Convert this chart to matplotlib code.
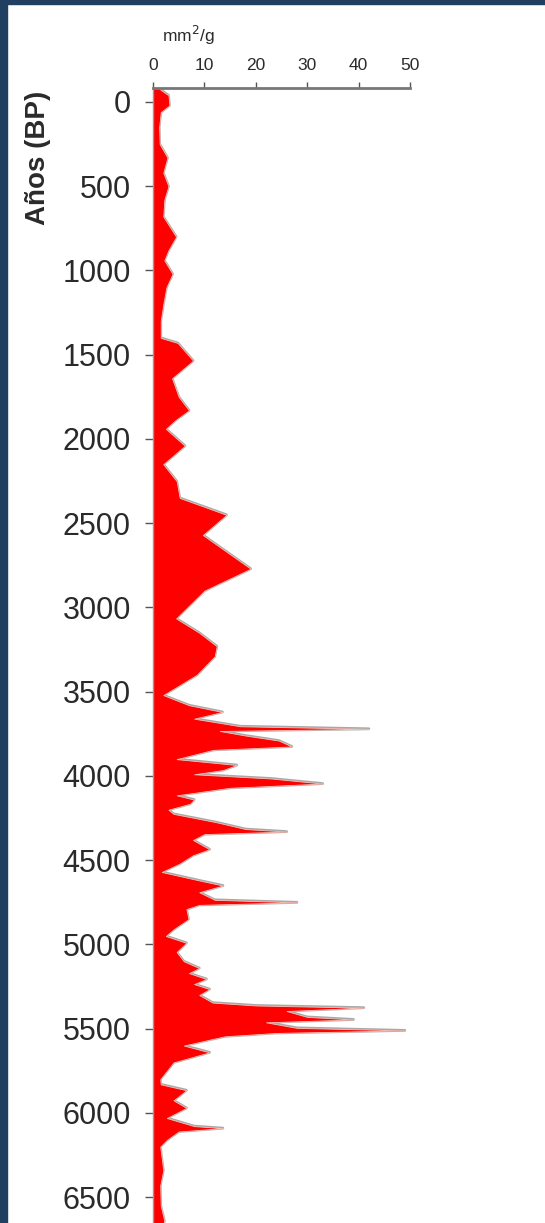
import matplotlib.pyplot as plt
from matplotlib.patches import Rectangle

# charcoal concentration profile (mm2/g) vs age (years BP)
years = [-83, -40, 20, 60, 150, 250, 330, 420, 500, 580, 680, 800, 880, 940,
         1020, 1100, 1200, 1300, 1400, 1430, 1535, 1640, 1750, 1830, 1890,
         1940, 2040, 2150, 2250, 2350, 2450, 2570, 2770, 2900, 3065, 3150,
         3230, 3290, 3400, 3520, 3580, 3620, 3660, 3705, 3720, 3733, 3760,
         3790, 3825, 3845, 3900, 3935, 3965, 3990, 4015, 4045, 4070, 4115,
         4140, 4165, 4200, 4225, 4275, 4315, 4330, 4345, 4380, 4435, 4470,
         4520, 4570, 4620, 4650, 4690, 4735, 4750, 4765, 4790, 4850, 4910,
         4950, 4990, 5045, 5100, 5140, 5170, 5205, 5235, 5265, 5300, 5345,
         5362, 5375, 5395, 5430, 5445, 5462, 5495, 5510, 5525, 5545, 5565,
         5600, 5640, 5700, 5750, 5800, 5830, 5865, 5925, 5970, 6030, 6078,
         6090, 6110, 6160, 6200, 6340, 6430, 6550, 6640, 6660]
values = [1.0, 3.0, 3.2, 1.5, 1.2, 1.3, 2.8, 2.0, 3.0, 2.2, 2.0, 4.5, 3.0, 2.2,
          3.8, 2.6, 2.0, 1.5, 1.5, 4.8, 7.8, 3.7, 5.0, 7.0, 4.3,
          2.5, 6.2, 2.0, 4.6, 5.2, 14.3, 9.7, 19.0, 10.0, 4.5, 9.0,
          12.4, 12.0, 8.5, 2.0, 7.0, 13.5, 8.0, 17.0, 42.0, 13.0, 18.0,
          24.5, 27.0, 11.7, 4.6, 16.3, 13.6, 8.0, 23.0, 33.0, 15.0, 4.6,
          8.0, 7.2, 3.0, 4.0, 12.4, 18.0, 26.0, 10.0, 7.8, 11.0, 7.8,
          5.2, 1.7, 9.0, 13.6, 9.0, 12.0, 28.0, 9.0, 6.5, 6.9, 4.0,
          2.5, 6.5, 4.6, 6.0, 9.0, 7.0, 10.4, 8.0, 11.0, 9.0, 11.6,
          20.0, 41.0, 26.0, 30.0, 39.0, 22.0, 28.0, 49.0, 24.0, 14.0, 11.0,
          6.0, 11.0, 4.0, 2.7, 1.4, 1.5, 6.5, 4.0, 6.5, 2.7, 8.0,
          13.6, 5.0, 2.7, 1.4, 2.0, 1.4, 1.5, 2.2, 2.0]

x_ticks = [0, 10, 20, 30, 40, 50]
y_ticks = list(range(0, 7000, 500))

fig = plt.figure(figsize=(5.45, 12.23), dpi=100)
plt.rcParams['font.family'] = ['Liberation Sans', 'DejaVu Sans']

# navy frame on the left and top
fig.patches.append(Rectangle((0, 0), 7 / 545, 1, transform=fig.transFigure,
                             color='#213f60', zorder=0))
fig.patches.append(Rectangle((0, 1 - 4 / 1223), 1, 4 / 1223,
                             transform=fig.transFigure, color='#213f60', zorder=0))

ax = fig.add_axes([153 / 545, 0, (410 - 153) / 545, 1 - 88 / 1223])

ax.plot(values, years, color='#a8a8a8', lw=2.0, zorder=1)
ax.fill_betweenx(years, 0, values, facecolor='#ff0000', edgecolor='#f4c2b8',
                 lw=0.6, zorder=2)

ax.set_xlim(0, 50)
ax.set_ylim(6653, -83)
ax.xaxis.tick_top()
ax.set_xticks(x_ticks)
ax.set_yticks(y_ticks)
ax.tick_params(axis='x', labelsize=12.5, length=4, width=1, colors='#555555',
               labelcolor='#2a2a2a', pad=7)
ax.tick_params(axis='y', labelsize=22, length=6, width=1, colors='#555555',
               labelcolor='#2a2a2a', pad=10)

for side in ['right', 'bottom']:
    ax.spines[side].set_visible(False)
ax.spines['top'].set_color('#777777')
ax.spines['top'].set_linewidth(2)
ax.spines['left'].set_color('#999999')
ax.spines['left'].set_linewidth(1)

fig.text(188 / 545, 1 - 47 / 1223, 'mm$^2$/g', ha='center', va='bottom',
         fontsize=12.5, color='#2a2a2a')
fig.text(38 / 545, 1 - 158 / 1223, 'Años (BP)', rotation=90, ha='center',
         va='center', fontsize=20, fontweight='bold', color='#2a2a2a')

fig.savefig('out.png', dpi=100)
